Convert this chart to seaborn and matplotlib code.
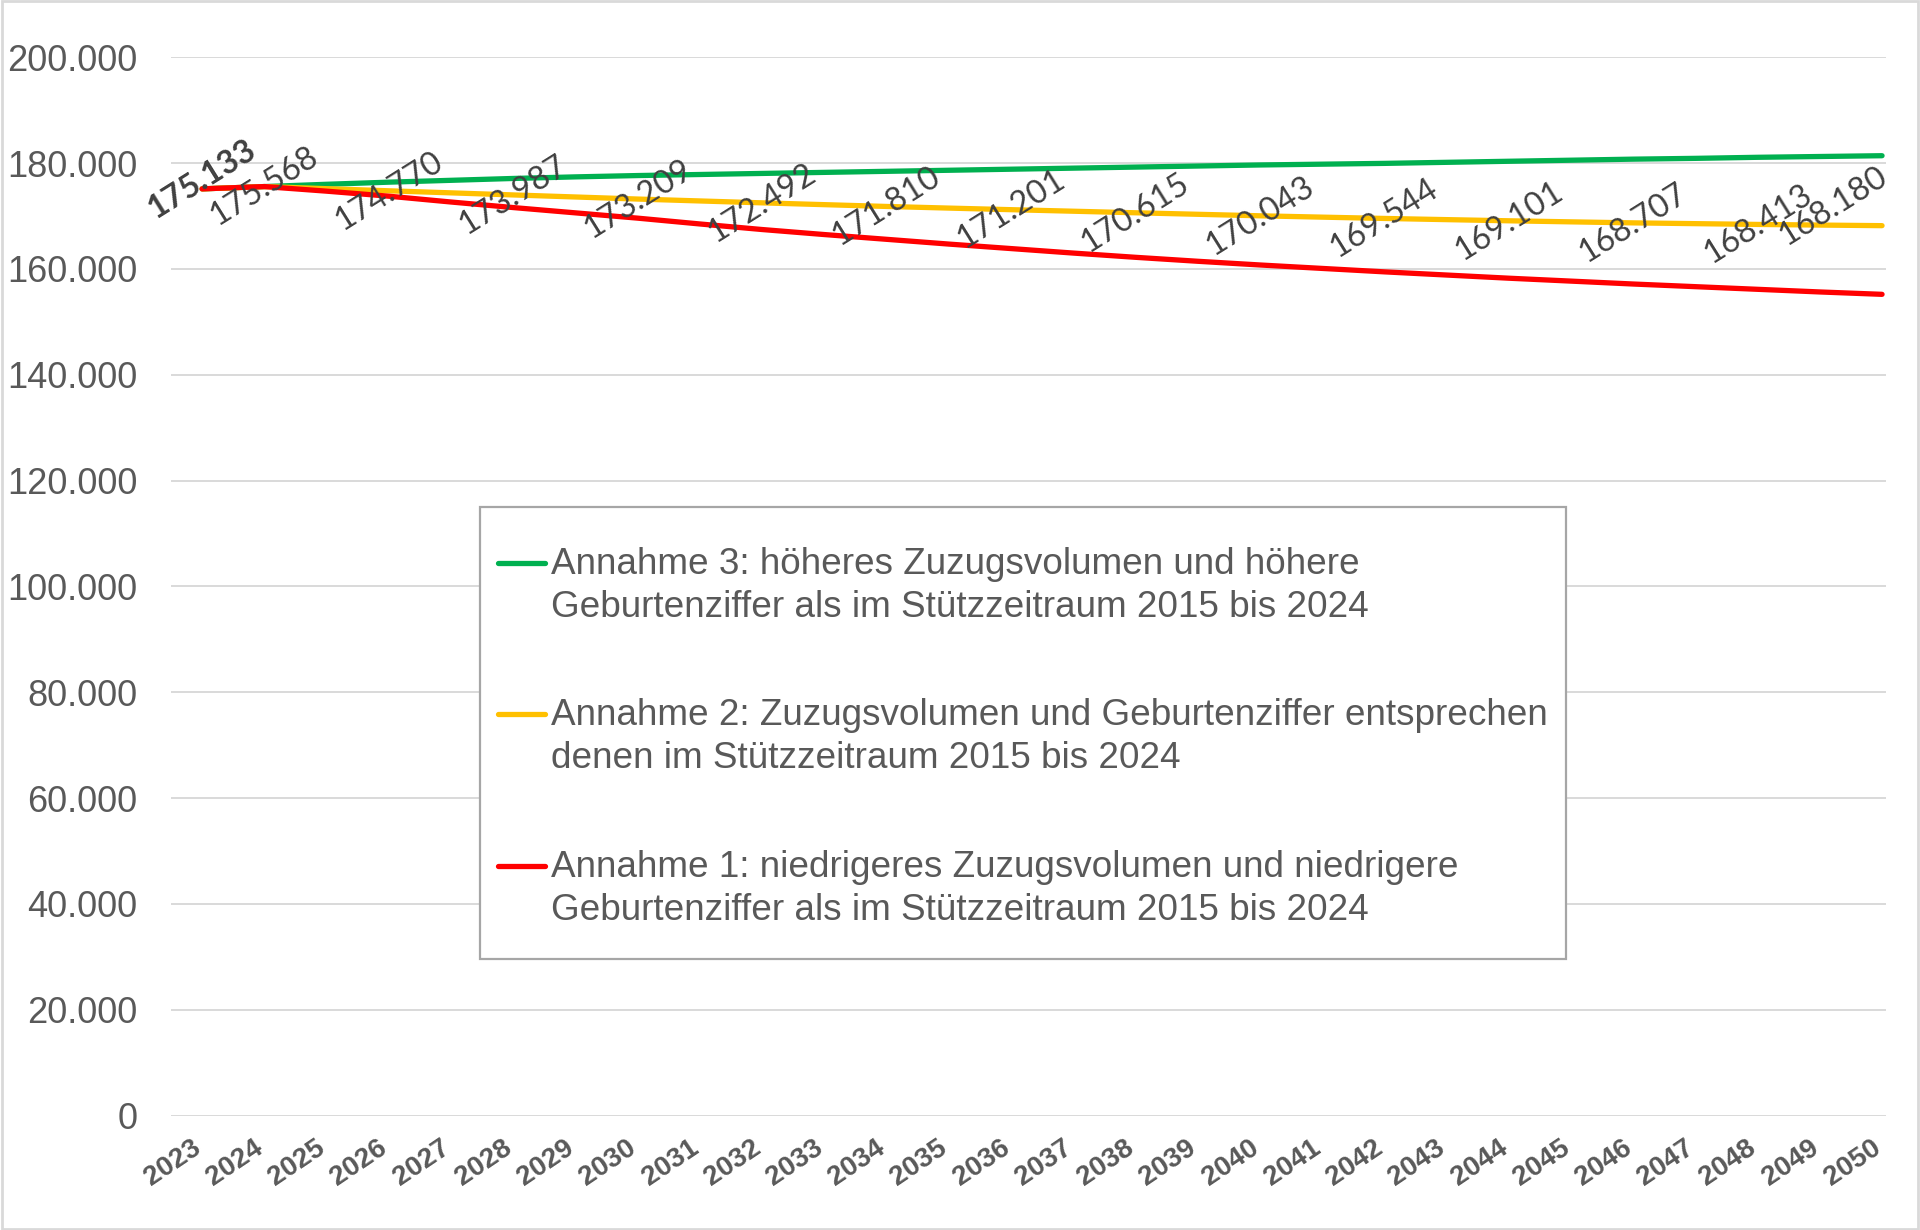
import numpy as np
import pandas as pd
import matplotlib
matplotlib.use("Agg")
import matplotlib.pyplot as plt
import seaborn as sns
from matplotlib.ticker import FuncFormatter
from matplotlib.legend_handler import HandlerLine2D
from matplotlib.lines import Line2D
from matplotlib.patches import Rectangle

# ---------------- data ----------------
years = list(range(2023, 2051))

annahme3 = [175133, 175568, 176000, 176400, 176750, 177100, 177400, 177650,
            177850, 178050, 178250, 178450, 178650, 178850, 179050, 179250,
            179450, 179650, 179800, 179950, 180150, 180350, 180550, 180750,
            180900, 181100, 181250, 181400]

annahme2 = [175133, 175568, 175170, 174770, 174380, 173987, 173600, 173209,
            172850, 172492, 172150, 171810, 171500, 171201, 170910, 170615,
            170330, 170043, 169790, 169544, 169320, 169101, 168900, 168707,
            168560, 168413, 168290, 168180]

annahme1 = [175133, 175568, 174700, 173750, 172650, 171600, 170600, 169600,
            168500, 167450, 166500, 165600, 164700, 163850, 163000, 162200,
            161450, 160750, 160100, 159450, 158850, 158250, 157700, 157150,
            156650, 156150, 155650, 155200]

label_years = [2023, 2024, 2026, 2028, 2030, 2032, 2034, 2036, 2038, 2040,
               2042, 2044, 2046, 2048, 2050]

legend_labels = [
    "Annahme 3: höheres Zuzugsvolumen und höhere\nGeburtenziffer als im Stützzeitraum 2015 bis 2024",
    "Annahme 2: Zuzugsvolumen und Geburtenziffer entsprechen\ndenen im Stützzeitraum 2015 bis 2024",
    "Annahme 1: niedrigeres Zuzugsvolumen und niedrigere\nGeburtenziffer als im Stützzeitraum 2015 bis 2024",
]
y_ticks = [0, 20000, 40000, 60000, 80000, 100000, 120000, 140000, 160000, 180000, 200000]

# ---------------- style ----------------
sns.set_theme(style="white")
plt.rcParams["font.family"] = ["Liberation Sans", "DejaVu Sans"]

GREEN = "#00B050"
YELLOW = "#FFC000"
RED = "#FF0000"
GRAY_TXT = "#595959"
LBL_TXT = "#404040"
GRID = "#D9D9D9"

W, H = 1920, 1230
fig = plt.figure(figsize=(W / 100, H / 100), dpi=100)
ax_left, ax_right = 171 / W, 1886.4 / W
ax_bottom, ax_top = 1 - 1115.5 / H, 1 - 57.3 / H
ax = fig.add_axes([ax_left, ax_bottom, ax_right - ax_left, ax_top - ax_bottom])

df = pd.DataFrame({"Jahr": years, "A3": annahme3, "A2": annahme2, "A1": annahme1})

lw = 3.8
sns.lineplot(data=df, x="Jahr", y="A3", ax=ax, color=GREEN, lw=lw, zorder=3,
             solid_capstyle="round")
sns.lineplot(data=df, x="Jahr", y="A2", ax=ax, color=YELLOW, lw=lw, zorder=3,
             solid_capstyle="round")
sns.lineplot(data=df, x="Jahr", y="A1", ax=ax, color=RED, lw=lw, zorder=4,
             solid_capstyle="round")

ax.set_xlim(2022.5, 2050.07)
ax.set_ylim(0, 200000)
ax.set_yticks(y_ticks)
ax.yaxis.set_major_formatter(FuncFormatter(lambda v, p: f"{int(v):,}".replace(",", ".")))
ax.set_xticks(years)
ax.set_xticklabels([str(y) for y in years])
ax.set_xlabel("")
ax.set_ylabel("")
ax.grid(axis="y", color=GRID, lw=1.4)
ax.grid(axis="x", visible=False)
for s in ax.spines.values():
    s.set_visible(False)
ax.set_axisbelow(True)

ax.tick_params(axis="y", length=0, pad=24, labelsize=26, labelcolor=GRAY_TXT)
ax.tick_params(axis="x", length=0, pad=26, labelsize=20, labelcolor=GRAY_TXT)
for t in ax.get_xticklabels():
    t.set_rotation(34)
    t.set_ha("right")
    t.set_va("baseline")
    t.set_rotation_mode("anchor")
    t.set_fontweight("bold")

# ---------------- data labels (Annahme 2) ----------------
val_by_year = dict(zip(years, annahme2))
for yr in label_years:
    v = val_by_year[yr]
    txt = f"{v:,}".replace(",", ".")
    off = (0, 0)
    weight = "normal"
    if yr == 2023:
        off = (0, 7)
        weight = "bold"
    elif yr == 2050:
        off = (-35, 14)
    ax.annotate(txt, xy=(yr, v), xytext=off, textcoords="offset points",
                ha="center", va="center", rotation=32, rotation_mode="anchor",
                fontsize=23.5, color=LBL_TXT, fontweight=weight,
                family=["Lato", "DejaVu Sans"], zorder=6)

# ---------------- legend ----------------
class FirstLineHandler(HandlerLine2D):
    def create_artists(self, legend, orig_handle, xdescent, ydescent, width,
                       height, fontsize, trans):
        arts = super().create_artists(legend, orig_handle, xdescent, ydescent,
                                      width, height, fontsize, trans)
        for a in arts:
            a.set_ydata(np.asarray(a.get_ydata(), dtype=float) + 0.64 * fontsize)
        return arts

handles = [Line2D([0], [0], color=c, lw=lw) for c in (GREEN, YELLOW, RED)]
leg = fig.legend(handles, legend_labels, loc="upper left",
                 bbox_to_anchor=(498 / W, 1 - 547 / H),
                 frameon=False, fontsize=26.6, handlelength=1.28,
                 handletextpad=0.15, labelspacing=1.99, borderpad=0,
                 borderaxespad=0, labelcolor=GRAY_TXT,
                 handler_map={Line2D: FirstLineHandler()})
for t in leg.get_texts():
    t.set_linespacing(1.29)

fig.add_artist(Rectangle((480 / W, 1 - 959 / H), (1566 - 480) / W, (959 - 507) / H,
                         transform=fig.transFigure, facecolor="white",
                         edgecolor="#A6A6A6", lw=1.6, zorder=5))
leg.set_zorder(7)

# chart border
fig.add_artist(Rectangle((0.001, 0.001), 0.998, 0.998, transform=fig.transFigure,
                         fill=False, edgecolor="#D9D9D9", lw=2))

fig.savefig("out.png", dpi=100)
